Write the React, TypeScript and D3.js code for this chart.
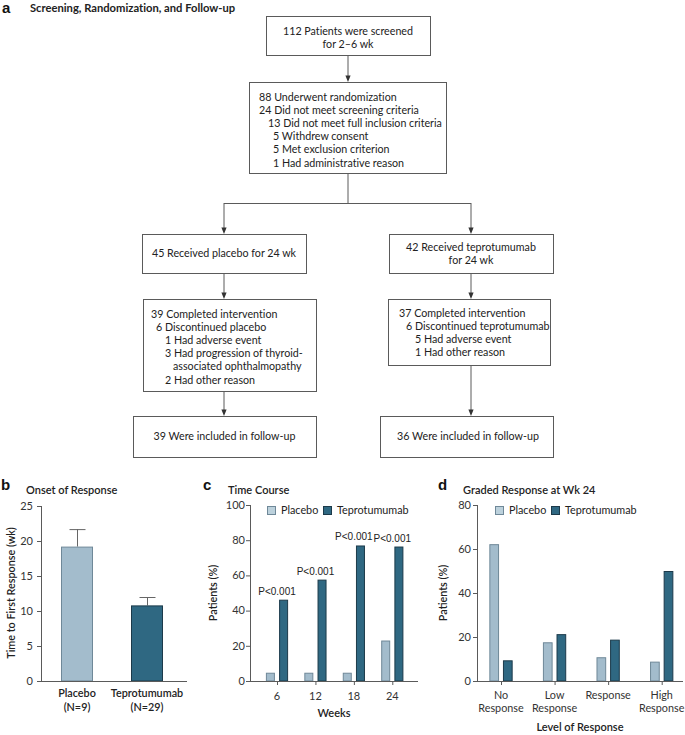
import React from "react";
import * as d3 from "d3";

// ---------- Flowchart text ----------
const screenedText = ["112 Patients were screened", "for 2–6 wk"];
const randomizationText = [
  "88 Underwent randomization",
  "24 Did not meet screening criteria",
  "13 Did not meet full inclusion criteria",
  "5 Withdrew consent",
  "5 Met exclusion criterion",
  "1 Had administrative reason",
];
const randomizationIndent = [0, 0, 9, 14, 14, 14];
const placeboArmText = ["45 Received placebo for 24 wk"];
const tepArmText = ["42 Received teprotumumab", "for 24 wk"];
const placeboCompletedText = [
  "39 Completed intervention",
  "6 Discontinued placebo",
  "1 Had adverse event",
  "3 Had progression of thyroid-",
  "associated ophthalmopathy",
  "2 Had other reason",
];
const placeboCompletedIndent = [0, 5, 14, 14, 22, 14];
const tepCompletedText = [
  "37 Completed intervention",
  "6 Discontinued teprotumumab",
  "5 Had adverse event",
  "1 Had other reason",
];
const tepCompletedIndent = [0, 7, 16, 16];
const placeboFollowText = ["39 Were included in follow-up"];
const tepFollowText = ["36 Were included in follow-up"];

// ---------- Panel b: onset of response ----------
const onsetGroups = ["Placebo", "Teprotumumab"];
const onsetN = ["(N=9)", "(N=29)"];
const onsetMean = [19.2, 10.8];
const onsetUpper = [21.7, 12.0];
const onsetTicks = [0, 5, 10, 15, 20, 25];

// ---------- Panel c: time course ----------
const weeks = ["6", "12", "18", "24"];
const coursePlacebo = [4.7, 4.7, 4.7, 23];
const courseTep = [46.2, 57.6, 77, 76.4];
const coursePLabels = ["P<0.001", "P<0.001", "P<0.001", "P<0.001"];
const courseTicks = [0, 20, 40, 60, 80, 100];

// ---------- Panel d: graded response ----------
const levels = ["No Response", "Low Response", "Response", "High Response"];
const levelLines = [["No", "Response"], ["Low", "Response"], ["Response"], ["High", "Response"]];
const gradedPlacebo = [62.2, 17.6, 10.8, 8.8];
const gradedTep = [9.4, 21.3, 18.8, 50];
const gradedTicks = [0, 20, 40, 60, 80];

const seriesNames = ["Placebo", "Teprotumumab"];

const FONT = "Lato, 'Open Sans', sans-serif";
const LETTER_FONT = "'Liberation Sans', Arial, sans-serif";
const LINE = "#5a5a5a";
const TEXT = "#222";
const PL_FILL = "#a3bccc";
const PL_STROKE = "#6f8898";
const TP_FILL = "#2f6882";
const TP_STROKE = "#1c3a4a";
const NOLIG = { fontVariantLigatures: "none" } as any;

function Arrow({ x, y1, y2 }: { x: number; y1: number; y2: number }) {
  return (
    <g>
      <line x1={x} x2={x} y1={y1} y2={y2 - 5} stroke={LINE} strokeWidth={1} />
      <path d={`M${x - 2.6},${y2 - 6.5} L${x + 2.6},${y2 - 6.5} L${x},${y2} Z`} fill="#333" />
    </g>
  );
}

function Box({ x0, x1, y0, y1 }: { x0: number; x1: number; y0: number; y1: number }) {
  return <rect x={x0 + 0.5} y={y0 + 0.5} width={x1 - x0} height={y1 - y0} fill="white" stroke={LINE} strokeWidth={1} />;
}

function Lines({ lines, x, y, anchor, indents, fs = 10.7 }: { lines: string[]; x: number; y: number; anchor: string; indents?: number[]; fs?: number }) {
  return (
    <g fontFamily={FONT} fontSize={fs} fill={TEXT} style={NOLIG}>
      {lines.map((t, i) => (
        <text key={i} x={x + (indents ? indents[i] : 0)} y={y + i * 13.1} textAnchor={anchor as any}>
          {t}
        </text>
      ))}
    </g>
  );
}

function Flowchart() {
  return (
    <g>
      <text x={2} y={13} fontFamily={LETTER_FONT} fontWeight={700} fontSize={15} fill="#111">a</text>
      <text x={30} y={12} fontFamily={FONT} fontWeight={700} fontSize={11.2} fill={TEXT} style={NOLIG}>Screening, Randomization, and Follow-up</text>

      <Box x0={266} x1={430} y0={16} y1={55} />
      <Lines lines={screenedText} x={348} y={35} anchor="middle" />
      <Arrow x={348} y1={55} y2={82} />

      <Box x0={249} x1={446} y0={82} y1={173} />
      <Lines lines={randomizationText} x={259} y={101} anchor="start" indents={randomizationIndent} />

      <line x1={348} x2={348} y1={173} y2={203} stroke={LINE} />
      <line x1={224} x2={471} y1={203.5} y2={203.5} stroke={LINE} />
      <Arrow x={224} y1={203} y2={234} />
      <Arrow x={471} y1={203} y2={234} />

      <Box x0={142} x1={306} y0={234} y1={273} />
      <Lines lines={placeboArmText} x={224} y={257} anchor="middle" />
      <Box x0={389} x1={553} y0={234} y1={273} />
      <Lines lines={tepArmText} x={471} y={251} anchor="middle" />

      <Arrow x={224} y1={273} y2={299} />
      <Arrow x={471} y1={273} y2={299} />

      <Box x0={143} x1={316} y0={299} y1={391} />
      <Lines lines={placeboCompletedText} x={151} y={318} anchor="start" indents={placeboCompletedIndent} />
      <Box x0={388} x1={550} y0={299} y1={365} />
      <Lines lines={tepCompletedText} x={399} y={317} anchor="start" indents={tepCompletedIndent} />

      <Arrow x={224} y1={391} y2={416} />
      <Arrow x={471} y1={365} y2={416} />

      <Box x0={133} x1={316} y0={416} y1={457} />
      <Lines lines={placeboFollowText} x={224.5} y={440} anchor="middle" />
      <Box x0={380} x1={553} y0={416} y1={457} />
      <Lines lines={tepFollowText} x={468} y={440} anchor="middle" />
    </g>
  );
}

function YAxis({ scale, ticks, x, labelX }: { scale: any; ticks: number[]; x: number; labelX: number }) {
  const [r0, r1] = scale.range();
  return (
    <g>
      <line x1={x + 0.5} x2={x + 0.5} y1={r0} y2={r1} stroke={LINE} />
      {ticks.map((t) => (
        <g key={t}>
          <line x1={x - 4} x2={x} y1={scale(t) + 0.5} y2={scale(t) + 0.5} stroke={LINE} />
          <text x={labelX} y={scale(t) + 3.8} textAnchor="end" fontFamily={FONT} fontSize={11} fill="#333">{t}</text>
        </g>
      ))}
    </g>
  );
}

function Legend({ x, y }: { x: number; y: number }) {
  return (
    <g fontFamily={FONT} fontSize={10.8} fill={TEXT}>
      <rect x={x + 0.5} y={y + 0.5} width={8} height={8} fill="#bcd1dc" stroke={PL_STROKE} />
      <text x={x + 14} y={y + 8}>{seriesNames[0]}</text>
      <rect x={x + 56.5} y={y + 0.5} width={8} height={8} fill={TP_FILL} stroke={TP_STROKE} />
      <text x={x + 70} y={y + 8}>{seriesNames[1]}</text>
    </g>
  );
}

function PanelB() {
  const y = d3.scaleLinear().domain([0, 25]).range([681, 506]);
  const x = d3.scalePoint<string>().domain(onsetGroups).range([77, 147]);
  const bw = 32;
  return (
    <g>
      <text x={1} y={490} fontFamily={LETTER_FONT} fontWeight={700} fontSize={15} fill="#111">b</text>
      <text x={26} y={494} fontFamily={FONT} fontWeight={600} fontSize={11} fill={TEXT}>Onset of Response</text>
      {onsetGroups.map((g, i) => {
        const cx = x(g)!;
        return (
          <g key={g}>
            <line x1={cx + 0.5} x2={cx + 0.5} y1={y(onsetUpper[i])} y2={y(onsetMean[i])} stroke="#666" />
            <line x1={cx - 7.5} x2={cx + 8.5} y1={y(onsetUpper[i]) + 0.5} y2={y(onsetUpper[i]) + 0.5} stroke="#666" />
            <rect x={cx - bw / 2 + 0.5} y={y(onsetMean[i]) + 0.5} width={bw - 1} height={y(0) - y(onsetMean[i]) - 0.5}
              fill={i === 0 ? PL_FILL : TP_FILL} stroke={i === 0 ? PL_STROKE : TP_STROKE} />
            <text x={cx} y={697} textAnchor="middle" fontFamily={FONT} fontWeight={600} fontSize={10.8} fill={TEXT}>{g}</text>
            <text x={cx} y={711} textAnchor="middle" fontFamily={FONT} fontWeight={600} fontSize={10.8} fill={TEXT}>{onsetN[i]}</text>
          </g>
        );
      })}
      <line x1={41} x2={187} y1={681.5} y2={681.5} stroke={LINE} />
      <YAxis scale={y} ticks={onsetTicks} x={41} labelX={33} />
      <text transform={`translate(15,593) rotate(-90)`} textAnchor="middle" fontFamily={FONT} fontWeight={600} fontSize={10.8} fill={TEXT}>Time to First Response (wk)</text>
    </g>
  );
}

function PanelC() {
  const y = d3.scaleLinear().domain([0, 100]).range([681, 505]);
  const x = d3.scalePoint<string>().domain(weeks).range([277, 392.3]);
  const bw = 9;
  const off = 6.6;
  return (
    <g>
      <text x={203} y={490} fontFamily={LETTER_FONT} fontWeight={700} fontSize={15} fill="#111">c</text>
      <text x={228} y={494} fontFamily={FONT} fontWeight={600} fontSize={11} fill={TEXT}>Time Course</text>
      <Legend x={267} y={506} />
      {weeks.map((w, i) => {
        const cx = x(w)!;
        return (
          <g key={w}>
            <rect x={cx - off - bw / 2 + 0.5} y={y(coursePlacebo[i]) + 0.5} width={bw - 1} height={y(0) - y(coursePlacebo[i]) - 0.5} fill={PL_FILL} stroke={PL_STROKE} />
            <rect x={cx + off - bw / 2 + 0.5} y={y(courseTep[i]) + 0.5} width={bw - 1} height={y(0) - y(courseTep[i]) - 0.5} fill={TP_FILL} stroke={TP_STROKE} />
            <text x={cx} y={y(courseTep[i]) - 5} textAnchor="middle" fontFamily={LETTER_FONT} fontSize={10} fill={TEXT}>{coursePLabels[i]}</text>
            <line x1={cx + 0.5} x2={cx + 0.5} y1={681} y2={685} stroke={LINE} />
            <text x={cx} y={700} textAnchor="middle" fontFamily={FONT} fontSize={11} fill="#333">{w}</text>
          </g>
        );
      })}
      <line x1={250} x2={418} y1={681.5} y2={681.5} stroke={LINE} />
      <YAxis scale={y} ticks={courseTicks} x={250} labelX={245} />
      <text x={334} y={717} textAnchor="middle" fontFamily={FONT} fontWeight={600} fontSize={11} fill={TEXT}>Weeks</text>
      <text transform={`translate(217,593) rotate(-90)`} textAnchor="middle" fontFamily={FONT} fontWeight={600} fontSize={10.8} fill={TEXT}>Patients (%)</text>
    </g>
  );
}

function PanelD() {
  const y = d3.scaleLinear().domain([0, 80]).range([681, 505]);
  const x = d3.scalePoint<string>().domain(levels).range([501, 661.7]);
  const bw = 9.7;
  const off = 6.8;
  return (
    <g>
      <text x={438} y={490} fontFamily={LETTER_FONT} fontWeight={700} fontSize={15} fill="#111">d</text>
      <text x={463} y={494} fontFamily={FONT} fontWeight={600} fontSize={11} fill={TEXT}>Graded Response at Wk 24</text>
      <Legend x={495} y={506} />
      {levels.map((l, i) => {
        const cx = x(l)!;
        return (
          <g key={l}>
            <rect x={cx - off - bw / 2 + 0.5} y={y(gradedPlacebo[i]) + 0.5} width={bw - 1} height={y(0) - y(gradedPlacebo[i]) - 0.5} fill={PL_FILL} stroke={PL_STROKE} />
            <rect x={cx + off - bw / 2 + 0.5} y={y(gradedTep[i]) + 0.5} width={bw - 1} height={y(0) - y(gradedTep[i]) - 0.5} fill={TP_FILL} stroke={TP_STROKE} />
            <line x1={cx + 0.5} x2={cx + 0.5} y1={681} y2={685} stroke={LINE} />
            {levelLines[i].map((t, j) => (
              <text key={j} x={cx} y={699 + j * 13} textAnchor="middle" fontFamily={FONT} fontSize={10.8} fill="#333">{t}</text>
            ))}
          </g>
        );
      })}
      <line x1={477} x2={683} y1={681.5} y2={681.5} stroke={LINE} />
      <YAxis scale={y} ticks={gradedTicks} x={477} labelX={471} />
      <text x={580} y={731} textAnchor="middle" fontFamily={FONT} fontWeight={600} fontSize={11} fill={TEXT}>Level of Response</text>
      <text transform={`translate(447,593) rotate(-90)`} textAnchor="middle" fontFamily={FONT} fontWeight={600} fontSize={10.8} fill={TEXT}>Patients (%)</text>
    </g>
  );
}

export default function App() {
  return (
    <svg width={685} height={735} viewBox="0 0 685 735" style={{ position: "absolute", left: 0, top: 0, background: "white" }}>
      <rect width={685} height={735} fill="white" />
      <Flowchart />
      <PanelB />
      <PanelC />
      <PanelD />
    </svg>
  );
}
